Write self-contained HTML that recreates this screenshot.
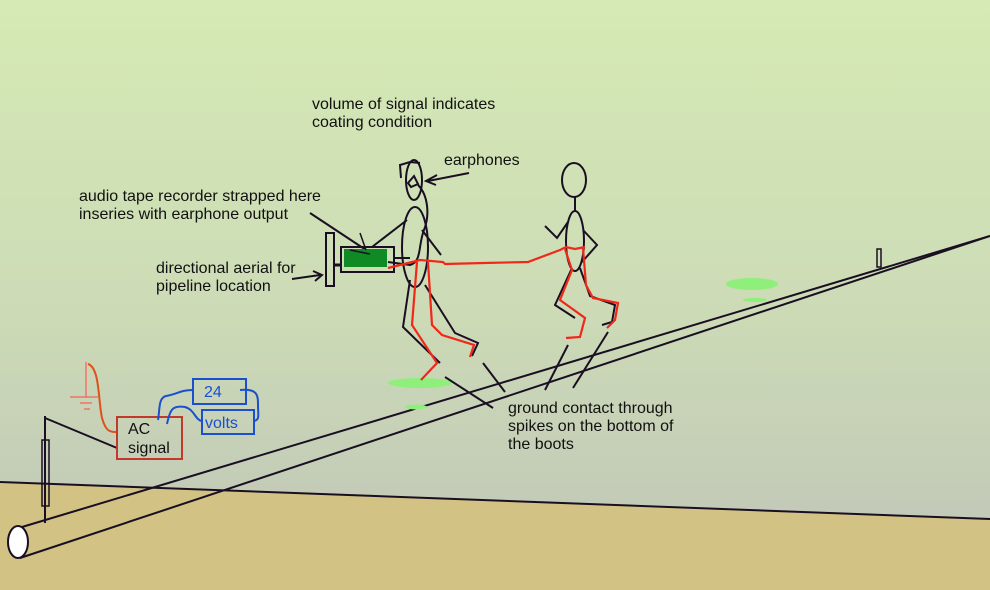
<!DOCTYPE html>
<html><head><meta charset="utf-8"><style>
html,body{margin:0;padding:0;width:990px;height:590px;overflow:hidden}
svg{display:block}
text{font-family:"Liberation Sans",sans-serif;font-size:16px;fill:#111}
</style></head><body>
<svg width="990" height="590" viewBox="0 0 990 590">
<defs><linearGradient id="sky" x1="0" y1="0" x2="0" y2="1">
<stop offset="0" stop-color="#d5eab4"/><stop offset="0.5" stop-color="#cddcb6"/><stop offset="1" stop-color="#bfc4b8"/></linearGradient></defs>
<rect width="990" height="590" fill="url(#sky)"/>
<polygon points="0,482 990,519 990,590 0,590" fill="#d2c384"/>
<line x1="0" y1="482" x2="990" y2="519" stroke="#1a0f22" stroke-width="2"/>
<line x1="22" y1="527" x2="990" y2="236" stroke="#1a0f22" stroke-width="2"/>
<line x1="20" y1="558" x2="990" y2="236" stroke="#1a0f22" stroke-width="2"/>
<ellipse cx="18" cy="542" rx="10" ry="16" fill="#fff" stroke="#1a0f22" stroke-width="2"/>
<rect x="877" y="249" width="4" height="18" fill="none" stroke="#1a0f22" stroke-width="1.5"/>
<ellipse cx="420" cy="383" rx="32" ry="5" fill="#8ef07a"/>
<ellipse cx="416" cy="407" rx="11" ry="2.5" fill="#8ef07a"/>
<ellipse cx="752" cy="284" rx="26" ry="6" fill="#8ef07a"/>
<ellipse cx="755" cy="300" rx="12" ry="2" fill="#8ef07a"/>
<line x1="45" y1="416" x2="45" y2="523" stroke="#1a0f22" stroke-width="2"/>
<rect x="42" y="440" width="7" height="66" fill="none" stroke="#1a0f22" stroke-width="1.5"/>
<line x1="45" y1="418" x2="117" y2="448" stroke="#1a0f22" stroke-width="2"/>
<g stroke="#ee7766" stroke-width="1.5" fill="none">
<line x1="86" y1="362" x2="86" y2="398"/><line x1="70" y1="397" x2="98" y2="397"/>
<line x1="80" y1="403" x2="92" y2="403"/><line x1="84" y1="409" x2="90" y2="409"/></g>
<path d="M88,364 C100,368 98,400 102,418 C106,432 110,432 117,432" stroke="#e0501c" stroke-width="2" fill="none"/>
<rect x="117" y="417" width="65" height="42" fill="none" stroke="#c0392b" stroke-width="2"/>
<text x="128" y="434">AC</text><text x="128" y="453">signal</text>
<g stroke="#1a4fd0" stroke-width="2" fill="none">
<rect x="193" y="379" width="53" height="25"/><rect x="202" y="410" width="52" height="24"/>
<path d="M158,420 C160,410 158,398 166,396 C178,394 180,390 193,390"/>
<path d="M167,424 C170,410 172,405 185,407 C195,410 195,420 202,421"/>
<path d="M240,390 C258,388 258,396 258,405 C258,415 260,420 254,421"/>
</g>
<text x="204" y="397" style="fill:#1a4fd0">24</text>
<text x="205" y="428" style="fill:#1a4fd0">volts</text>
<text x="312" y="109">volume of signal indicates</text>
<text x="312" y="127">coating condition</text>
<text x="444" y="165">earphones</text>
<text x="79" y="201">audio tape recorder strapped here</text>
<text x="79" y="219">inseries with earphone output</text>
<text x="156" y="273">directional aerial for</text>
<text x="156" y="291">pipeline location</text>
<text x="508" y="413">ground contact through</text>
<text x="508" y="431">spikes on the bottom of</text>
<text x="508" y="449">the boots</text>
<g stroke="#1a0f22" stroke-width="2" fill="none">
<line x1="469" y1="173" x2="428" y2="181"/><path d="M437,175 L426,181 L436,185"/>
<line x1="310" y1="213" x2="366" y2="250"/>
<line x1="292" y1="279" x2="320" y2="275"/><path d="M313,271 L322,275 L315,281"/>
</g>
<rect x="326" y="233" width="8" height="53" fill="none" stroke="#1a0f22" stroke-width="2"/>
<line x1="334" y1="265" x2="342" y2="265" stroke="#1a0f22" stroke-width="3"/>
<rect x="341" y="247" width="53" height="25" fill="none" stroke="#1a0f22" stroke-width="2"/>
<rect x="344" y="249" width="43" height="18" fill="#0f8a24"/>
<g stroke="#1a0f22" stroke-width="1.5" fill="none">
<line x1="360" y1="233" x2="366" y2="250"/>
<line x1="350" y1="250" x2="370" y2="254"/>
</g>
<g stroke="#1a0f22" stroke-width="2" fill="none">
<ellipse cx="414" cy="180" rx="8" ry="20"/>
<path d="M401,178 L400,165 L410,162 L420,163"/>
<path d="M408,183 L414,176 L418,184 L411,187Z"/>
<path d="M418,185 C428,195 430,215 424,230 C418,245 422,262 410,265 L388,262"/>
<ellipse cx="415" cy="247" rx="13" ry="40"/>
<line x1="407" y1="220" x2="372" y2="247"/>
<line x1="422" y1="230" x2="441" y2="255"/>
<line x1="394" y1="258" x2="410" y2="258"/>
<path d="M410,280 L403,327 L440,363"/>
<path d="M425,285 L455,333 L478,343 L472,356"/>
<line x1="483" y1="363" x2="505" y2="392"/>
<line x1="445" y1="377" x2="493" y2="408"/>
<line x1="568" y1="345" x2="545" y2="390"/>
<line x1="608" y1="332" x2="573" y2="388"/>
<ellipse cx="574" cy="180" rx="12" ry="17"/>
<line x1="575" y1="197" x2="575" y2="211"/>
<ellipse cx="575" cy="241" rx="9" ry="30"/>
<path d="M568,222 L557,238 L545,226"/>
<path d="M583,230 L597,245 L582,262"/>
<path d="M572,268 L555,305 L575,318"/>
<path d="M580,268 L590,296 L615,305 L612,322 L602,325"/>
</g>
<g stroke="#f0281a" stroke-width="2.2" fill="none">
<path d="M388,268 L420,260 L443,262 L445,264 L484,263 L528,262 L560,250 L566,247 L575,249 L585,247"/>
<path d="M417,262 L412,325 L437,363 L421,380"/>
<path d="M428,262 L432,325 L442,335 L474,345 L470,357"/>
<path d="M565,249 L572,270 L560,300 L585,318 L580,337 L566,338"/>
<path d="M583,248 L586,285 L593,298 L618,303 L615,320 L607,328"/>
</g>
</svg>
</body></html>
